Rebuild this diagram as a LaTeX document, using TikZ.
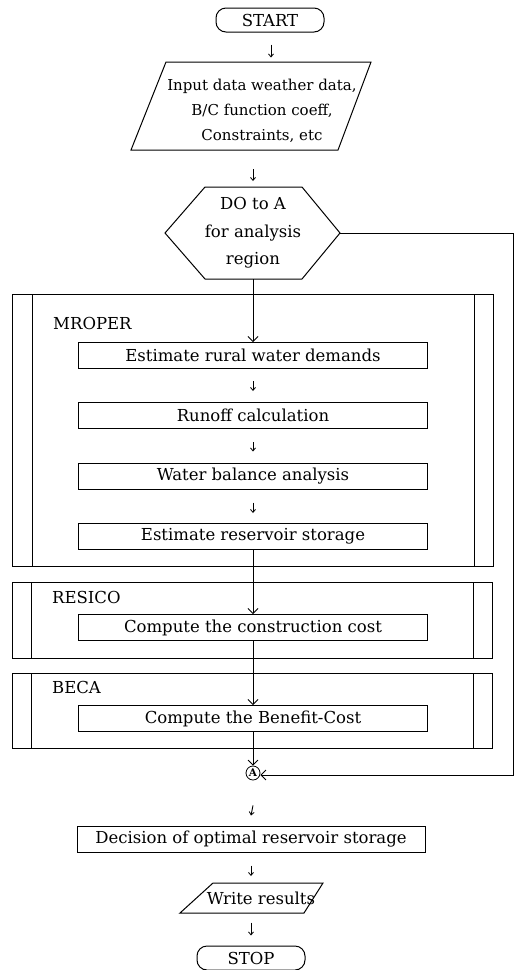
\documentclass[tikz,border=0pt]{standalone}
\usepackage{fontspec}
\setmainfont{DejaVu Serif}
\usetikzlibrary{arrows.meta,calc}
\begin{document}
\begin{tikzpicture}[x=1pt,y=-1pt,
  txt/.style={font=\fontsize{16.5}{25}\selectfont, inner sep=0pt, align=center},
  lbl/.style={font=\fontsize{16.5}{25}\selectfont, inner sep=0pt, anchor=west},
  proc/.style={draw, line width=1pt, minimum width=349pt, minimum height=26pt, inner sep=0pt, font=\fontsize{16.5}{25}\selectfont},
  term/.style={draw, line width=1pt, rounded corners=10pt, minimum width=108pt, minimum height=24pt, inner sep=0pt, font=\fontsize{16.5}{25}\selectfont},
  shp/.style={draw, line width=1pt, line join=miter},
  flow/.style={-{Straight Barb[length=5pt,width=10pt,line width=0.8pt]}, line width=0.9pt},
  tinyarrow/.style={-{Straight Barb[length=3pt,width=5pt,line width=0.8pt]}, line width=0.9pt},
  circA/.style={draw, circle, line width=0.8pt, minimum size=14pt, inner sep=0pt, font=\fontsize{10.5}{10.5}\selectfont\bfseries}
]
\useasboundingbox (0,0) rectangle (518,970);

% START
\node[term] (start) at (270,20) {START};

% Input parallelogram
\coordinate (i1) at (166,62);
\coordinate (i2) at (371,62);
\coordinate (i3) at (338,150);
\coordinate (i4) at (131,150);
\draw[shp] (i1) -- (i2) -- (i3) -- (i4) -- cycle;
\node[txt, font=\fontsize{15}{25}\selectfont] (input) at (262,111) {Input data weather data,\\B/C function coeff,\\Constraints, etc};

% hexagon
\coordinate (h1) at (205,187);
\coordinate (h2) at (302,187);
\coordinate (h3) at (340,233);
\coordinate (h4) at (302,279);
\coordinate (h5) at (205,279);
\coordinate (h6) at (165,233);
\draw[shp] (h1) -- (h2) -- (h3) -- (h4) -- (h5) -- (h6) -- cycle;
\node[txt, font=\fontsize{16.5}{27.5}\selectfont] (hex) at (253,233) {DO to A\\for analysis\\region};

% MROPER frame
\draw[shp] (12,294) rectangle (493,566);
\draw[shp] (32,294) -- (32,566);
\draw[shp] (474,294) -- (474,566);
\node[lbl] (mroper) at (53,323) {MROPER};

\node[proc] (b1) at (253,355.5) {Estimate rural water demands};
\node[proc] (b2) at (253,415.5) {Runoff calculation};
\node[proc] (b3) at (253,476) {Water balance analysis};
\node[proc] (b4) at (253,536.5) {Estimate reservoir storage};

% RESICO frame
\draw[shp] (12,582) rectangle (492,658);
\draw[shp] (31,582) -- (31,658);
\draw[shp] (473,582) -- (473,658);
\node[lbl] (resico) at (52,597) {RESICO};
\node[proc] (b5) at (253,627.5) {Compute the construction cost};

% BECA frame
\draw[shp] (12,673) rectangle (492,748);
\draw[shp] (31,673) -- (31,748);
\draw[shp] (473,673) -- (473,748);
\node[lbl] (beca) at (52,687) {BECA};
\node[proc] (b6) at (253,718.5) {Compute the Benefit-Cost};

% connector A
\node[circA] (A) at (253,773) {A};

% lower part
\node[proc, minimum width=348pt] (dec) at (251,839) {Decision of optimal reservoir storage};
\coordinate (w1) at (213,883);
\coordinate (w2) at (323,883);
\coordinate (w3) at (304,913);
\coordinate (w4) at (180,913);
\draw[shp] (w1) -- (w2) -- (w3) -- (w4) -- cycle;
\node[txt] (write) at (261,898) {Write results};
\node[term] (stop) at (251,958) {STOP};

% small arrows
\draw[tinyarrow] ($(start.south)+(1,12)$) -- ($(start.south)+(1,25)$);
\coordinate (a2s) at (253,169);
\coordinate (a2e) at (253,181);
\draw[tinyarrow] (a2s) -- (a2e);
\draw[tinyarrow] ($(b1.south)+(0,12)$) -- ($(b2.north)+(0,-11)$);
\draw[tinyarrow] ($(b2.south)+(0,13)$) -- ($(b3.north)+(0,-11)$);
\draw[tinyarrow] ($(b3.south)+(0,13)$) -- ($(b4.north)+(0,-10)$);
\draw[tinyarrow] ($(A.south)+(0,25)$) -- ($(dec.north)+(0,-10)$);
\coordinate (a9e) at (251,876);
\draw[tinyarrow] ($(dec.south)+(0,13)$) -- (a9e);
\draw[tinyarrow] ($(stop.north)+(0,-23)$) -- ($(stop.north)+(0,-10)$);

% main flow
\draw[flow] (hex.south |- h4) -- (b1.north);
\draw[flow] (b4.south) -- (b5.north);
\draw[flow] (b5.south) -- (b6.north);
\draw[flow] (b6.south) -- (A.north);

% loop
\coordinate (lc1) at (513,233);
\coordinate (lc2) at (513,775);
\draw[flow] (h3) -- (lc1) -- (lc2) -- (A.east |- lc2);
\end{tikzpicture}
\end{document}
